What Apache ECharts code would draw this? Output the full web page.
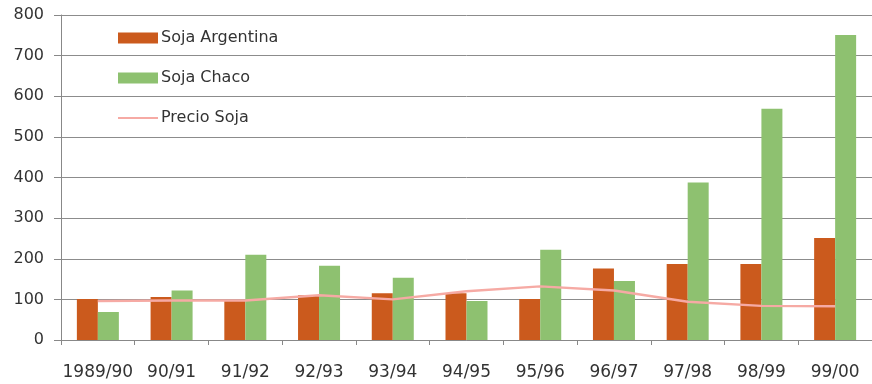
<!DOCTYPE html>
<html>
<head>
<meta charset="utf-8">
<script src="https://cdn.jsdelivr.net/npm/echarts@6/dist/echarts.min.js"></script>
<style>
  html, body { margin: 0; padding: 0; background: #fff; }
  #chart { width: 872px; height: 384px; }
</style>
</head>
<body>
<div id="chart"></div>
<script>
  let campanias = ['1989/90', '90/91', '91/92', '92/93', '93/94', '94/95', '95/96', '96/97', '97/98', '98/99', '99/00'];
  let sojaArgentina = [101, 106, 96, 110, 115, 115, 101, 176, 187, 187, 251];
  let sojaChaco = [69, 122, 210, 183, 153, 96, 222, 145, 388, 569, 751];
  let precioSoja = [96, 97, 97, 110, 100, 120, 132, 122, 94, 84, 83];

  var myChart = echarts.init(document.getElementById('chart'));
  var option = {
    animation: false,
    textStyle: { fontFamily: 'DejaVu Sans' },
    legend: {
      orient: 'vertical',
      left: 112,
      top: 25,
      itemWidth: 40,
      itemHeight: 11,
      itemGap: 24,
      textStyle: { fontSize: 16, color: '#333', padding: [0, 0, 0, -2] },
      data: [
        { name: 'Soja Argentina', icon: 'rect' },
        { name: 'Soja Chaco', icon: 'rect' },
        { name: 'Precio Soja', itemStyle: { opacity: 0 } }
      ]
    },
    grid: { left: 61, right: -4, top: 15, bottom: 44 },
    xAxis: {
      type: 'category',
      data: campanias,
      axisLine: { lineStyle: { color: '#888', width: 1 } },
      axisTick: { show: true, length: 5, lineStyle: { color: '#888' } },
      axisLabel: { fontSize: 17, color: '#333', margin: 24, interval: 0 }
    },
    yAxis: {
      type: 'value',
      min: 0,
      max: 800,
      interval: 100,
      axisLine: { show: true, lineStyle: { color: '#888', width: 1 } },
      axisTick: { show: true, length: 7, lineStyle: { color: '#888' } },
      axisLabel: { fontSize: 16, color: '#333', margin: 17 },
      splitLine: { lineStyle: { color: '#8c8c8c', width: 1 } }
    },
    series: [
      {
        name: 'Soja Argentina',
        type: 'bar',
        barWidth: 21,
        barGap: '0%',
        itemStyle: { color: '#CB5A1D' },
        data: sojaArgentina
      },
      {
        name: 'Soja Chaco',
        type: 'bar',
        barWidth: 21,
        itemStyle: { color: '#8EC170' },
        data: sojaChaco
      },
      {
        name: 'Precio Soja',
        type: 'line',
        symbol: 'none',
        lineStyle: { color: '#F6AAA4', width: 2.5 },
        itemStyle: { color: '#F6AAA4' },
        z: 5,
        data: precioSoja
      }
    ]
  };
  myChart.setOption(option);
</script>
</body>
</html>
